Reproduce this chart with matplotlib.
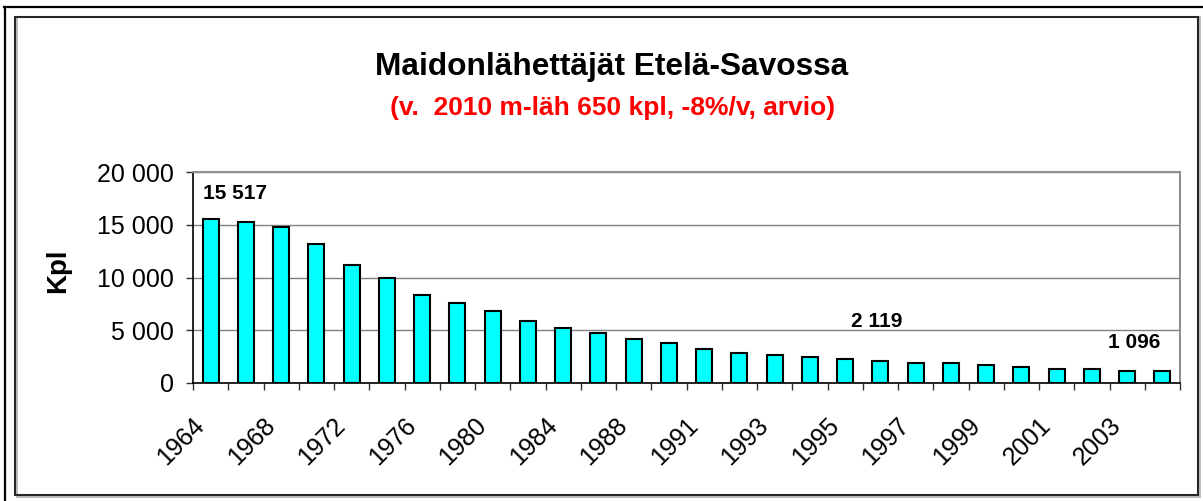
import matplotlib
matplotlib.use('Agg')
import matplotlib.pyplot as plt
from matplotlib.ticker import FuncFormatter
from matplotlib.patches import Rectangle
from matplotlib.lines import Line2D

# Maidonlähettäjät Etelä-Savossa, kpl
years = [1964, 1966, 1968, 1970, 1972, 1974, 1976, 1978, 1980, 1982,
         1984, 1986, 1988, 1990, 1991, 1992, 1993, 1994, 1995, 1996,
         1997, 1998, 1999, 2000, 2001, 2002, 2003, 2004]
senders = [15517, 15300, 14750, 13200, 11150, 10000, 8300, 7550, 6800, 5850,
           5250, 4740, 4170, 3820, 3220, 2880, 2690, 2460, 2270, 2119,
           1930, 1930, 1710, 1550, 1330, 1330, 1160, 1096]
labelled = [0, 19, 27]

plt.rcParams['font.family'] = ['Liberation Sans', 'DejaVu Sans']

W, H = 1203, 501
fig = plt.figure(figsize=(W / 100, H / 100), dpi=100)

# frames (outer cut-off border + chart area border)
fig.add_artist(Line2D([4 / W, 1], [1 - 7 / H, 1 - 7 / H], transform=fig.transFigure,
                      color='black', linewidth=1.6))
fig.add_artist(Line2D([4.5 / W, 4.5 / W], [0, 1 - 7 / H], transform=fig.transFigure,
                      color='black', linewidth=1.6))
fig.add_artist(Rectangle((17 / W, 1 - 497 / H), (1183 / W), (480 / H), transform=fig.transFigure,
                         fill=False, edgecolor='#b0b0b0', linewidth=1.2))
fig.add_artist(Rectangle((15 / W, 1 - 495 / H), (1183 / W), (478 / H), transform=fig.transFigure,
                         fill=False, edgecolor='#262626', linewidth=1.5))

ax = fig.add_axes([193 / W, 1 - 383 / H, (1180 - 193) / W, (383 - 172) / H])
x = list(range(len(years)))
ax.bar(x, senders, width=0.46, color='#00FFFF', edgecolor='black', linewidth=1.5, zorder=3)

ax.set_xlim(-0.5, len(years) - 0.5)
ax.set_ylim(0, 20000)
ax.set_yticks(range(0, 20001, 5000))
ax.yaxis.set_major_formatter(FuncFormatter(lambda v, p: f'{int(v):,}'.replace(',', ' ')))
ax.grid(axis='y', color='#808080', linewidth=1, zorder=0)

for s in ['top', 'right']:
    ax.spines[s].set_color('#909090')
    ax.spines[s].set_linewidth(1.5)
for s in ['left', 'bottom']:
    ax.spines[s].set_color('black')
    ax.spines[s].set_linewidth(1.2)

# ticks between categories, labels on every other year (nudged left a bit, like Excel)
ax.set_xticks([i - 0.5 for i in range(len(years) + 1)])
ax.set_xticklabels([])
ax.set_xticks([i - 0.28 for i in x[::2]], minor=True)
ax.set_xticklabels([str(y) for y in years[::2]], minor=True, rotation=45,
                   ha='right', va='center', rotation_mode='anchor', fontsize=18)
ax.tick_params(axis='x', which='major', length=5, width=1, direction='out', color='#333333')
ax.tick_params(axis='x', which='minor', length=0, pad=28)
ax.tick_params(axis='y', length=5, width=1, direction='out', pad=9, labelsize=18, color='#333333')

# data labels, placed as in the original
offsets = {0: (24, 26), 19: (-4, 39), 27: (-28, 29)}
for i in labelled:
    ax.annotate(f'{senders[i]:,}'.replace(',', ' '), (x[i], senders[i]),
                xytext=offsets[i], textcoords='offset pixels',
                ha='center', va='center', fontsize=15, fontweight='bold', zorder=4)

fig.text(58 / W, 1 - 271 / H, 'Kpl', rotation=90, ha='center', va='center',
         fontsize=20, fontweight='bold')
fig.text(612 / W, 1 - 75 / H, 'Maidonlähettäjät Etelä-Savossa', ha='center', va='baseline',
         fontsize=22.8, fontweight='bold')
fig.text(613 / W, 1 - 115 / H, '(v.  2010 m-läh 650 kpl, -8%/v, arvio)', ha='center',
         va='baseline', fontsize=19, fontweight='bold', color='red')

fig.savefig('out.png', dpi=100)
